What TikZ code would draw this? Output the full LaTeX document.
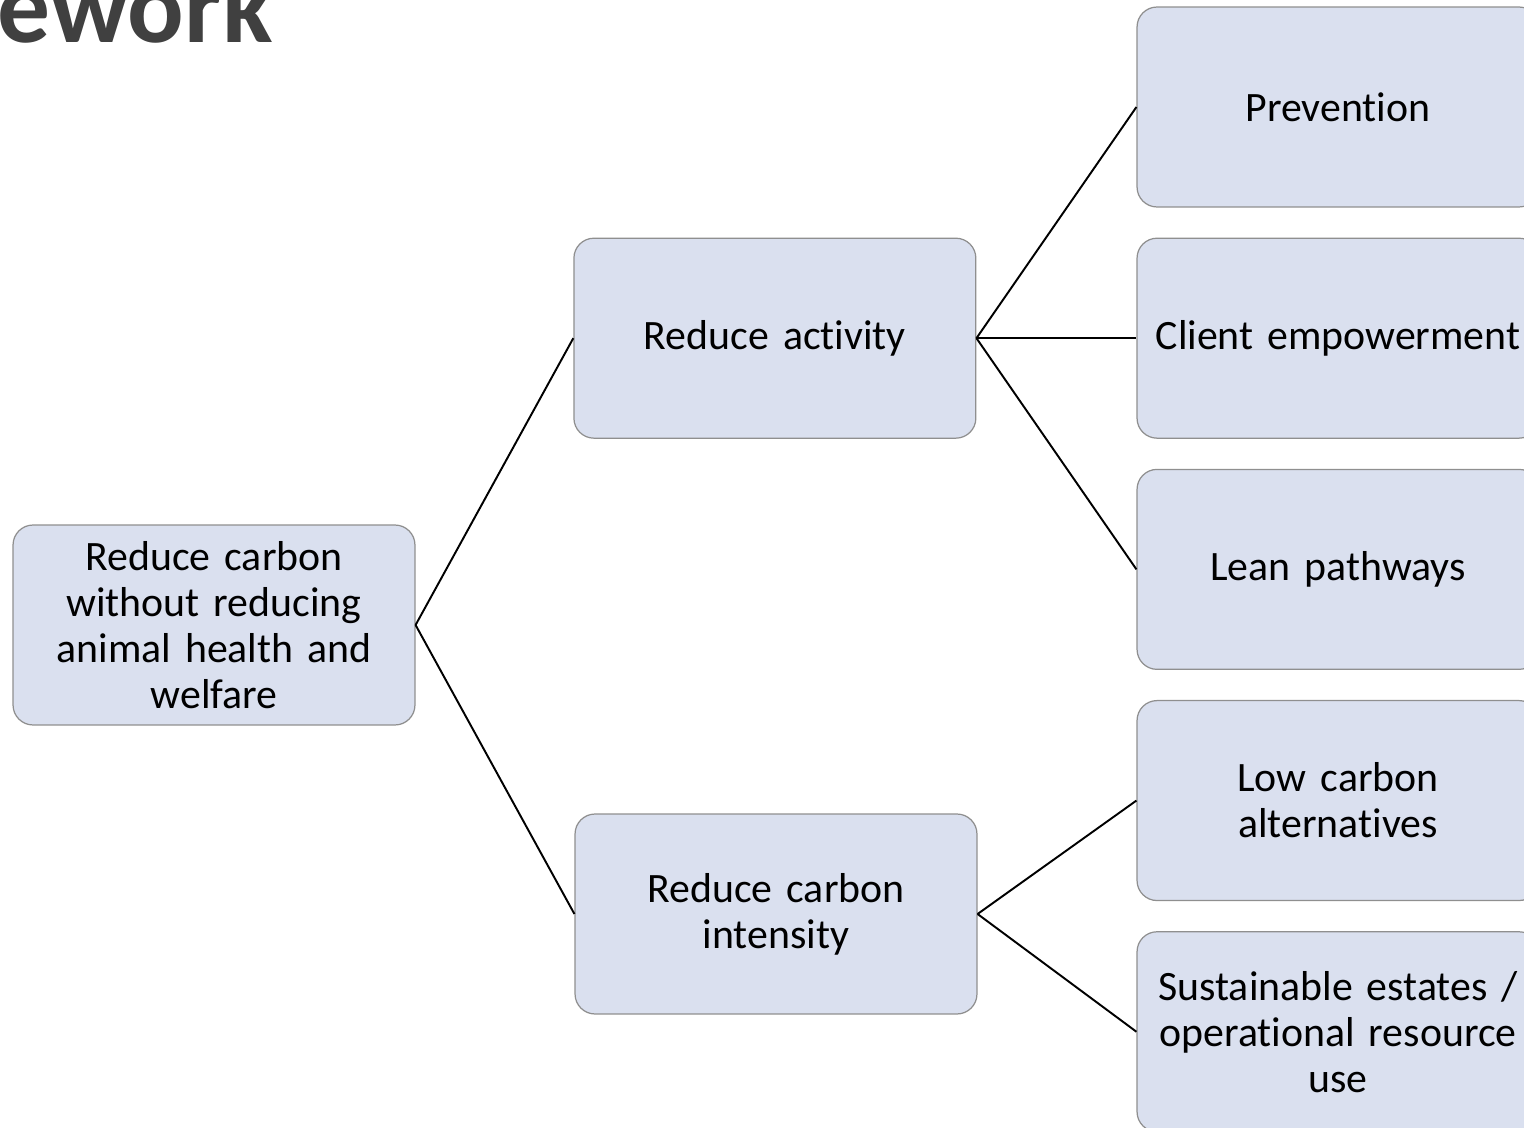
\documentclass[tikz,border=0pt]{standalone}
\usepackage{fontspec}
\setmainfont{Carlito}[Ligatures=CommonOff]
\usetikzlibrary{positioning}
\definecolor{boxfill}{HTML}{DAE0EF}
\definecolor{boxline}{HTML}{8F8F8F}
\definecolor{titlegray}{HTML}{404040}

\begin{document}
\begin{tikzpicture}[x=0.02cm, y=-0.02cm, node distance=0.6cm and 3.2cm]
    \tikzstyle{goal} = [rectangle, rounded corners=0.4cm, draw=boxline, line width=0.7pt, fill=boxfill, minimum width=8.04cm, minimum height=4cm, text width=7.7cm, align=center, font=\fontsize{23.8}{26.2}\selectfont]
    \tikzstyle{link} = [line width=1.1pt, black]

    \clip (0,0) rectangle (1524,1128);

    % Slide title (cut off)
    \node[anchor=base east, inner sep=0pt, text=titlegray, font=\fontsize{60}{62}\selectfont\bfseries] (title) at (273,43) {ework};

    % Right column
    \node[goal] (prev) at (1338,107) {Prevention};
    \node[goal, below=of prev] (client) {Client empowerment};
    \node[goal, below=of client] (lean) {Lean pathways};
    \node[goal, below=of lean] (lowcarb) {Low carbon\\alternatives};
    \node[goal, below=of lowcarb] (estates) {Sustainable estates /\\operational resource\\use};

    % Middle column
    \node[goal, left=of client] (activity) {Reduce activity};
    \node[goal] (intensity) at (776,914) {Reduce carbon\\intensity};

    % Root
    \node[goal] (root) at (214,625) {Reduce carbon\\without reducing\\animal health and\\welfare};

    % Connections
    \draw[link] (root.east) -- (activity.west);
    \draw[link] (root.east) -- (intensity.west);
    \draw[link] (activity.east) -- (prev.west);
    \draw[link] (activity.east) -- (client.west);
    \draw[link] (activity.east) -- (lean.west);
    \draw[link] (intensity.east) -- (lowcarb.west);
    \draw[link] (intensity.east) -- (estates.west);

\end{tikzpicture}
\end{document}
